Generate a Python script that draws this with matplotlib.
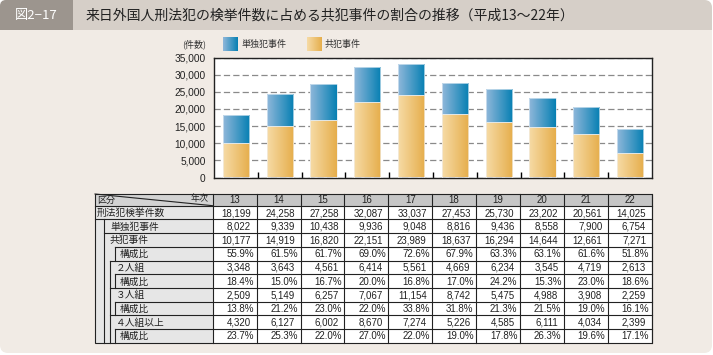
import numpy as np
import matplotlib
matplotlib.use('Agg')
import matplotlib.pyplot as plt
from matplotlib.patches import Rectangle, FancyBboxPatch
from matplotlib.colors import LinearSegmentedColormap
from matplotlib.ticker import FuncFormatter

plt.rcParams['font.family'] = ['Noto Sans CJK JP', 'DejaVu Sans']

years = ['13', '14', '15', '16', '17', '18', '19', '20', '21', '22']
total = [18199, 24258, 27258, 32087, 33037, 27453, 25730, 23202, 20561, 14025]
tandoku = [8022, 9339, 10438, 9936, 9048, 8816, 9436, 8558, 7900, 6754]
kyohan = [10177, 14919, 16820, 22151, 23989, 18637, 16294, 14644, 12661, 7271]
kyohan_ratio = [55.9, 61.5, 61.7, 69.0, 72.6, 67.9, 63.3, 63.1, 61.6, 51.8]
futari = [3348, 3643, 4561, 6414, 5561, 4669, 6234, 3545, 4719, 2613]
futari_ratio = [18.4, 15.0, 16.7, 20.0, 16.8, 17.0, 24.2, 15.3, 23.0, 18.6]
sannin = [2509, 5149, 6257, 7067, 11154, 8742, 5475, 4988, 3908, 2259]
sannin_ratio = [13.8, 21.2, 23.0, 22.0, 33.8, 31.8, 21.3, 21.5, 19.0, 16.1]
yonin = [4320, 6127, 6002, 8670, 7274, 5226, 4585, 6111, 4034, 2399]
yonin_ratio = [23.7, 25.3, 22.0, 27.0, 22.0, 19.0, 17.8, 26.3, 19.6, 17.1]

row_labels = ['刑法犯検挙件数', '単独犯事件', '共犯事件', '構成比', '２人組', '構成比',
              '３人組', '構成比', '４人組以上', '構成比']

title = '来日外国人刑法犯の検挙件数に占める共犯事件の割合の推移（平成13～22年）'

blue_l, blue_r = '#8fb7da', '#0780b3'
orange_l, orange_r = '#f6dba6', '#e6ae4c'
panel_bg = '#f1ebe5'

fig = plt.figure(figsize=(7.13, 3.55), dpi=100)
fig.patch.set_facecolor('white')

# background layer in pixel coords (y down)
bg = fig.add_axes([0, 0, 1, 1])
bg.set_xlim(0, 713)
bg.set_ylim(355, 0)
bg.set_autoscale_on(False)
bg.axis('off')

bg.add_patch(FancyBboxPatch((0, 0), 712, 353, boxstyle='round,pad=0,rounding_size=8',
                            fc=panel_bg, ec='none'))
bg.add_patch(FancyBboxPatch((0, 0), 712, 30, boxstyle='round,pad=0,rounding_size=8',
                            fc='#d6cfc8', ec='none'))
bg.add_patch(Rectangle((0, 15), 712, 15, fc='#d6cfc8', ec='none'))
bg.add_patch(FancyBboxPatch((0, 0), 73, 30, boxstyle='round,pad=0,rounding_size=6',
                            fc='#9c958e', ec='none'))
bg.add_patch(Rectangle((40, 0), 33, 30, fc='#9c958e', ec='none'))
bg.add_patch(Rectangle((0, 15), 73, 15, fc='#9c958e', ec='none'))
bg.text(36, 15.5, '図2−17', color='white', fontsize=9.5, ha='center', va='center')
bg.text(86, 15.5, title, color='#222222', fontsize=10, ha='left', va='center')


def hgrad(c1, c2):
    return LinearSegmentedColormap.from_list('g', [c1, c2])


grad = np.linspace(0, 1, 64).reshape(1, -1)

# legend
bg.text(194, 44, '(件数)', fontsize=6.5, ha='center', va='center', color='#333333')
bg.imshow(grad, extent=(222.5, 237.5, 51, 37), aspect='auto', cmap=hgrad(blue_l, blue_r), zorder=2)
bg.text(241, 44.5, '単独犯事件', fontsize=6.5, ha='left', va='center', color='#333333')
bg.imshow(grad, extent=(307, 322, 51, 37), aspect='auto', cmap=hgrad(orange_l, orange_r), zorder=2)
bg.text(325, 44.5, '共犯事件', fontsize=6.5, ha='left', va='center', color='#333333')

# bar chart
ax = fig.add_axes([214 / 713, 1 - 177.5 / 355, 438 / 713, 120 / 355])
ax.set_facecolor('white')
x = np.arange(len(years))
b1 = ax.bar(x, kyohan, width=0.6, fc='none', ec='#f3efe8', lw=0.5, zorder=3)
b2 = ax.bar(x, tandoku, bottom=kyohan, width=0.6, fc='none', ec='#dbe9f3', lw=0.5, zorder=3)


def fill_gradient(bars, c1, c2):
    cm = hgrad(c1, c2)
    for b in bars:
        x0, y0 = b.get_x(), b.get_y()
        w, h = b.get_width(), b.get_height()
        im = ax.imshow(grad, extent=(x0, x0 + w, y0, y0 + h), aspect='auto', cmap=cm,
                       origin='lower', zorder=2)
        im.set_clip_path(b)


fill_gradient(b1, orange_l, orange_r)
fill_gradient(b2, blue_l, blue_r)

ax.set_xlim(-0.5, len(years) - 0.5)
ax.set_ylim(0, 35000)
ax.set_yticks(np.arange(0, 35001, 5000))
ax.yaxis.set_major_formatter(FuncFormatter(lambda v, p: f'{int(v):,}'))
ax.set_xticks(x[:-1] + 0.5)
ax.tick_params(axis='x', direction='in', length=4, width=1, labelbottom=False)
ax.tick_params(axis='y', length=0, pad=6, labelsize=7.3, labelcolor='#222222')
for lab in ax.get_yticklabels():
    lab.set_family('Liberation Sans')
ax.yaxis.grid(True, ls=(0, (5, 2.5)), color='#8a8a8a', lw=0.9)
ax.set_axisbelow(True)
for s in ax.spines.values():
    s.set_linewidth(1.0)
    s.set_color('#222222')

# table
tb_left, lab_right, tb_right = 95, 212.7, 651.7
head_top, head_bot = 194, 205.7
row_h = 13.7
col_w = (tb_right - lab_right) / len(years)
n_rows = len(row_labels)
tb_bot = head_bot + n_rows * row_h
lc = '#222222'
lw = 0.8

bg.add_patch(Rectangle((tb_left, head_top), lab_right - tb_left, head_bot - head_top, fc='#d3d3d3', ec='none'))
bg.add_patch(Rectangle((lab_right, head_top), tb_right - lab_right, head_bot - head_top, fc='#c6c6c6', ec='none'))
bg.add_patch(Rectangle((tb_left, head_bot), lab_right - tb_left, tb_bot - head_bot, fc='#e6e6e6', ec='none'))
bg.add_patch(Rectangle((lab_right, head_bot), tb_right - lab_right, tb_bot - head_bot, fc='white', ec='none'))
bg.add_patch(Rectangle((tb_left, head_top), tb_right - tb_left, tb_bot - head_top, fc='none', ec=lc, lw=lw, zorder=4))

bg.plot([tb_left, tb_right], [head_bot, head_bot], color=lc, lw=lw, zorder=4)
bg.plot([tb_left, lab_right], [head_top, head_bot], color=lc, lw=lw, zorder=4)
bg.text(97, 200.5, '区分', fontsize=6.5, ha='left', va='center', color='#222222')
bg.text(209, 199, '年次', fontsize=6.5, ha='right', va='center', color='#222222')
for j in range(len(years) + 1):
    xx = lab_right + j * col_w
    bg.plot([xx, xx], [head_top, tb_bot], color=lc, lw=lw, zorder=4)
for j, yr in enumerate(years):
    bg.text(lab_right + (j + 0.5) * col_w, (head_top + head_bot) / 2 + 0.5, yr, fontsize=7,
            family='Liberation Sans', ha='center', va='center', color='#222222')

indent = [95, 104, 104, 115, 109.5, 115, 109.5, 115, 109.5, 115]
text_x = [97, 110, 110, 120, 116, 120, 116, 120, 116, 120]
table_rows = [total, tandoku, kyohan, kyohan_ratio, futari, futari_ratio,
              sannin, sannin_ratio, yonin, yonin_ratio]

for i in range(n_rows):
    top = head_bot + i * row_h
    if i > 0:
        x0 = tb_left if i == 1 else indent[i]
        bg.plot([x0, tb_right], [top, top], color=lc, lw=lw, zorder=4)
    if row_labels[i] == '構成比':
        bg.plot([115, 115], [top, top + row_h], color=lc, lw=lw, zorder=4)
    bg.text(text_x[i], top + row_h / 2 + 0.5, row_labels[i], fontsize=7, ha='left', va='center',
            color='#222222')
    is_pct = row_labels[i] == '構成比'
    for j, v in enumerate(table_rows[i]):
        s = f'{v:.1f}%' if is_pct else f'{v:,}'
        pad = 2.5 if is_pct else 5.5
        bg.text(lab_right + (j + 1) * col_w - pad, top + row_h / 2 + 0.5, s, fontsize=7,
                family='Liberation Sans', ha='right', va='center', color='#222222')

bg.plot([104, 104], [head_bot + row_h, tb_bot], color=lc, lw=lw, zorder=4)
bg.plot([109.5, 109.5], [head_bot + 4 * row_h, tb_bot], color=lc, lw=lw, zorder=4)

fig.savefig('out.png', dpi=100)
